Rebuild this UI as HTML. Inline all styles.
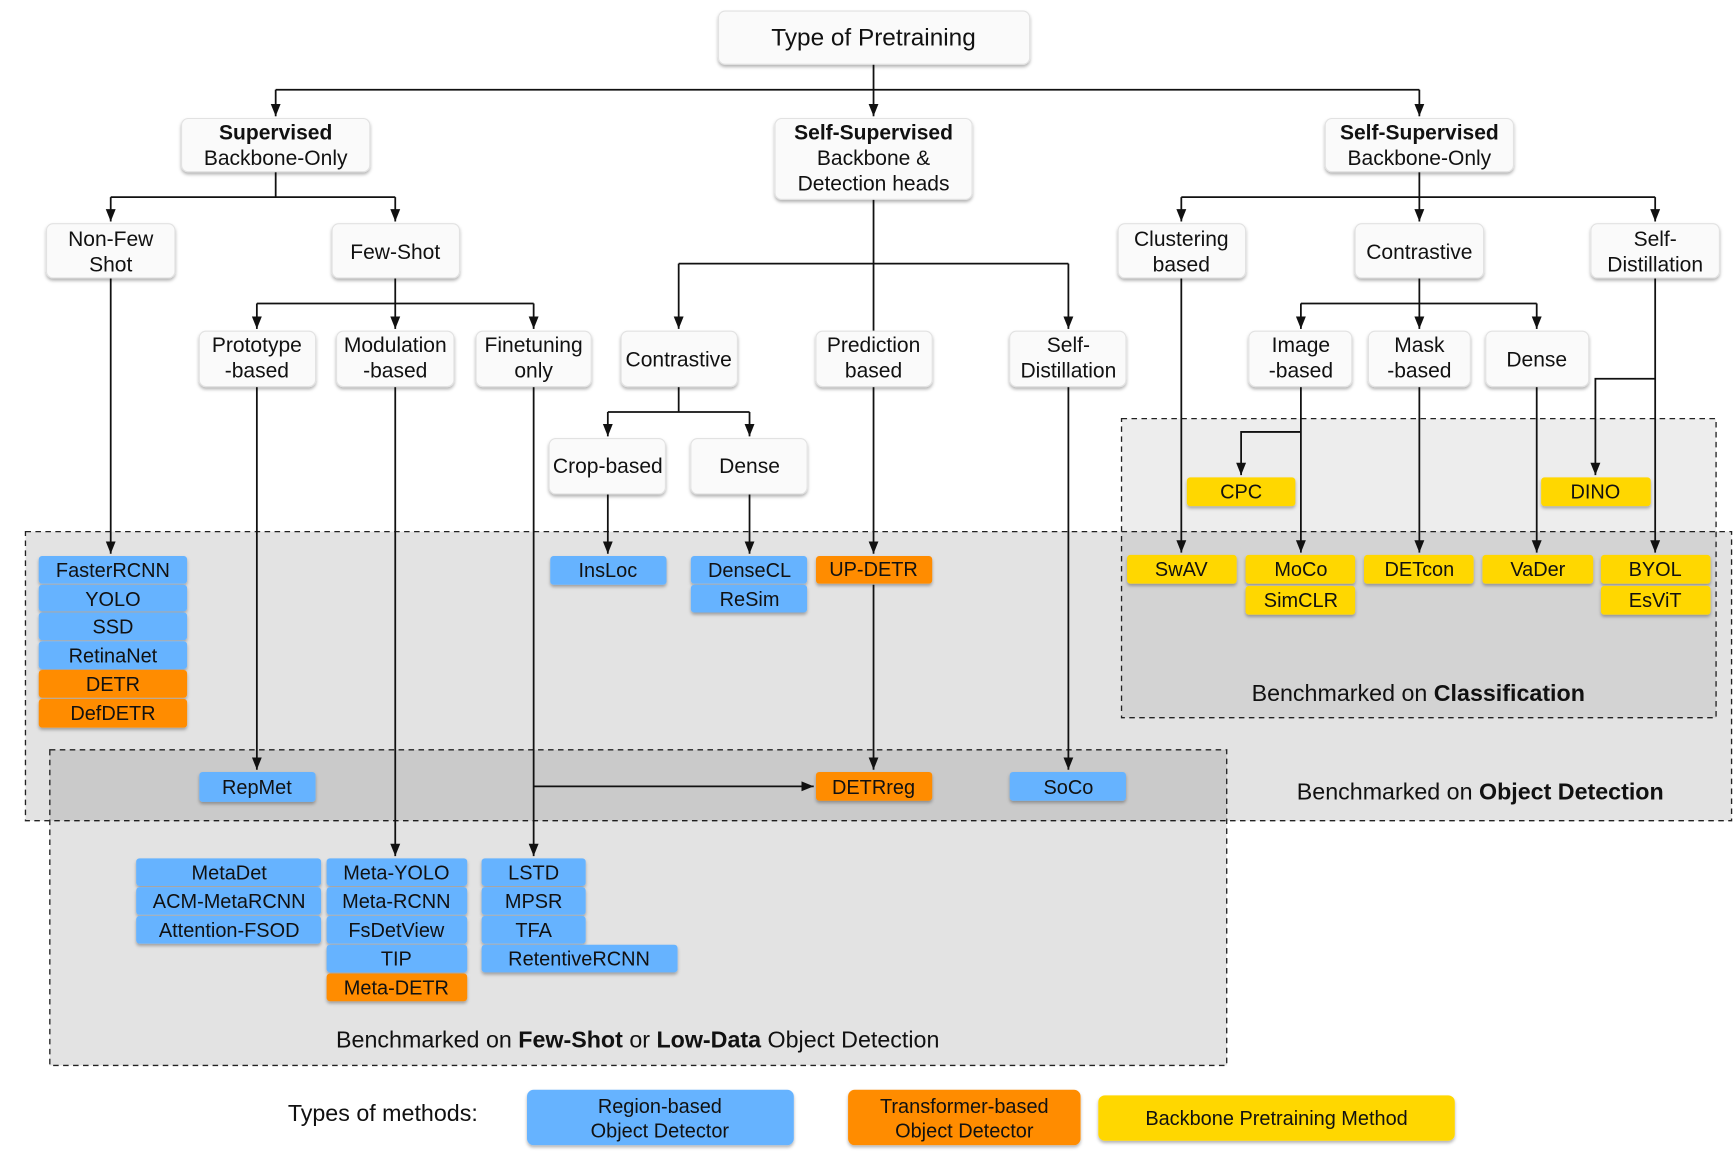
<!DOCTYPE html>
<html><head><meta charset="utf-8"><style>
html,body{margin:0;padding:0;background:#fff;}
svg{display:block;}
text{font-family:"Liberation Sans",sans-serif;fill:#111;}
.n{font-size:19px;text-anchor:middle;}
.m{font-size:18px;text-anchor:middle;}
.b{font-weight:bold;}
</style></head><body>
<svg width="1736" height="1164" viewBox="0 0 1568 1051" preserveAspectRatio="none" xmlns="http://www.w3.org/2000/svg">
<defs>
<marker id="a" viewBox="0 0 10 10" refX="10" refY="5" markerWidth="7" markerHeight="7" orient="auto"><path d="M0,1 L10,5 L0,9 z" fill="#111"/></marker>
<filter id="sh" x="-10%" y="-10%" width="120%" height="140%"><feDropShadow dx="0" dy="2" stdDeviation="1.5" flood-color="#000" flood-opacity="0.3"/></filter>
</defs>

<!-- regions -->
<rect x="23" y="480" width="1541" height="261" fill="rgba(0,0,0,0.11)" stroke="#222" stroke-dasharray="5,4" stroke-width="1.2"/>
<rect x="1013" y="378" width="537" height="270" fill="rgba(0,0,0,0.07)" stroke="#222" stroke-dasharray="5,4" stroke-width="1.2"/>
<rect x="45" y="677" width="1063" height="285" fill="rgba(0,0,0,0.11)" stroke="#222" stroke-dasharray="5,4" stroke-width="1.2"/>
<text x="1337" y="722" style="font-size:21px;text-anchor:middle">Benchmarked on <tspan class="b">Object Detection</tspan></text>
<text x="1281" y="633" style="font-size:21px;text-anchor:middle">Benchmarked on <tspan class="b">Classification</tspan></text>
<text x="576" y="946" style="font-size:21px;text-anchor:middle">Benchmarked on <tspan class="b">Few-Shot</tspan> or <tspan class="b">Low-Data</tspan> Object Detection</text>

<!-- connectors -->
<g stroke="#111" stroke-width="1.6" fill="none">
<path d="M789 58 V81 M249 81 H1282"/>
<path d="M249 81 V105" marker-end="url(#a)"/>
<path d="M789 81 V105" marker-end="url(#a)"/>
<path d="M1282 81 V105" marker-end="url(#a)"/>
<path d="M249 155 V178 M100 178 H357"/>
<path d="M100 178 V200" marker-end="url(#a)"/>
<path d="M357 178 V200" marker-end="url(#a)"/>
<path d="M357 251 V274 M232 274 H482"/>
<path d="M232 274 V297" marker-end="url(#a)"/>
<path d="M357 274 V297" marker-end="url(#a)"/>
<path d="M482 274 V297" marker-end="url(#a)"/>
<path d="M789 180 V500" marker-end="url(#a)"/>
<path d="M613 238 H965"/>
<path d="M613 238 V297" marker-end="url(#a)"/>
<path d="M965 238 V297" marker-end="url(#a)"/>
<path d="M613 349 V372 M549 372 H677"/>
<path d="M549 372 V394" marker-end="url(#a)"/>
<path d="M677 372 V394" marker-end="url(#a)"/>
<path d="M549 446 V500" marker-end="url(#a)"/>
<path d="M677 446 V500" marker-end="url(#a)"/>
<path d="M1282 155 V178 M1067 178 H1495"/>
<path d="M1067 178 V200" marker-end="url(#a)"/>
<path d="M1282 178 V200" marker-end="url(#a)"/>
<path d="M1495 178 V200" marker-end="url(#a)"/>
<path d="M1282 251 V274 M1175 274 H1388"/>
<path d="M1175 274 V297" marker-end="url(#a)"/>
<path d="M1282 274 V297" marker-end="url(#a)"/>
<path d="M1388 274 V297" marker-end="url(#a)"/>
<path d="M1067 251 V499" marker-end="url(#a)"/>
<path d="M1175 349 V499" marker-end="url(#a)"/>
<path d="M1175 390 H1121 V429" marker-end="url(#a)"/>
<path d="M1282 349 V499" marker-end="url(#a)"/>
<path d="M1388 349 V499" marker-end="url(#a)"/>
<path d="M1495 251 V499" marker-end="url(#a)"/>
<path d="M1495 342 H1441 V429" marker-end="url(#a)"/>
<path d="M100 251 V500" marker-end="url(#a)"/>
<path d="M232 349 V695" marker-end="url(#a)"/>
<path d="M357 349 V773" marker-end="url(#a)"/>
<path d="M482 349 V773" marker-end="url(#a)"/>
<path d="M482 710 H735" marker-end="url(#a)"/>
<path d="M789 528 V695" marker-end="url(#a)"/>
<path d="M965 349 V695" marker-end="url(#a)"/>
</g>

<!-- white nodes -->
<g fill="#fafafa" stroke="#e2e2e2" stroke-width="1" filter="url(#sh)">
<rect x="649" y="10" width="281" height="48" rx="6"/>
<rect x="164" y="107" width="170" height="48" rx="6"/>
<rect x="700" y="107" width="178" height="73" rx="6"/>
<rect x="1197" y="107" width="170" height="48" rx="6"/>
<rect x="42" y="202" width="116" height="49" rx="6"/>
<rect x="300" y="202" width="115" height="49" rx="6"/>
<rect x="1010" y="202" width="115" height="49" rx="6"/>
<rect x="1224" y="202" width="116" height="49" rx="6"/>
<rect x="1437" y="202" width="116" height="49" rx="6"/>
<rect x="180" y="299" width="105" height="50" rx="6"/>
<rect x="304" y="299" width="106" height="50" rx="6"/>
<rect x="430" y="299" width="104" height="50" rx="6"/>
<rect x="561" y="299" width="105" height="50" rx="6"/>
<rect x="737" y="299" width="105" height="50" rx="6"/>
<rect x="912" y="299" width="105" height="50" rx="6"/>
<rect x="1128" y="299" width="93" height="50" rx="6"/>
<rect x="1236" y="299" width="92" height="50" rx="6"/>
<rect x="1342" y="299" width="93" height="50" rx="6"/>
<rect x="496" y="396" width="105" height="50" rx="6"/>
<rect x="624" y="396" width="105" height="50" rx="6"/>
</g>
<text x="789" y="41" style="font-size:22px;text-anchor:middle">Type of Pretraining</text>
<text class="n" x="249" y="126"><tspan class="b">Supervised</tspan><tspan x="249" dy="23">Backbone-Only</tspan></text>
<text class="n" x="789" y="126"><tspan class="b">Self-Supervised</tspan><tspan x="789" dy="23">Backbone &amp;</tspan><tspan x="789" dy="23">Detection heads</tspan></text>
<text class="n" x="1282" y="126"><tspan class="b">Self-Supervised</tspan><tspan x="1282" dy="23">Backbone-Only</tspan></text>
<text class="n" x="100" y="222">Non-Few<tspan x="100" dy="23">Shot</tspan></text>
<text class="n" x="357" y="234">Few-Shot</text>
<text class="n" x="1067" y="222">Clustering<tspan x="1067" dy="23">based</tspan></text>
<text class="n" x="1282" y="234">Contrastive</text>
<text class="n" x="1495" y="222">Self-<tspan x="1495" dy="23">Distillation</tspan></text>
<text class="n" x="232" y="318">Prototype<tspan x="232" dy="23">-based</tspan></text>
<text class="n" x="357" y="318">Modulation<tspan x="357" dy="23">-based</tspan></text>
<text class="n" x="482" y="318">Finetuning<tspan x="482" dy="23">only</tspan></text>
<text class="n" x="613" y="331">Contrastive</text>
<text class="n" x="789" y="318">Prediction<tspan x="789" dy="23">based</tspan></text>
<text class="n" x="965" y="318">Self-<tspan x="965" dy="23">Distillation</tspan></text>
<text class="n" x="1175" y="318">Image<tspan x="1175" dy="23">-based</tspan></text>
<text class="n" x="1282" y="318">Mask<tspan x="1282" dy="23">-based</tspan></text>
<text class="n" x="1388" y="331">Dense</text>
<text class="n" x="549" y="427">Crop-based</text>
<text class="n" x="677" y="427">Dense</text>

<!-- method boxes -->
<g filter="url(#sh)">
<g fill="#66b3ff">
<rect x="35" y="502" width="134" height="25" rx="3"/>
<rect x="35" y="528" width="134" height="24" rx="3"/>
<rect x="35" y="553" width="134" height="25" rx="3"/>
<rect x="35" y="579" width="134" height="25" rx="3"/>
<rect x="497" y="502" width="105" height="26" rx="3"/>
<rect x="624" y="502" width="105" height="25" rx="3"/>
<rect x="624" y="528" width="105" height="25" rx="3"/>
<rect x="180" y="697" width="105" height="27" rx="3"/>
<rect x="912" y="697" width="105" height="26" rx="3"/>
<rect x="123" y="775" width="167" height="25" rx="3"/>
<rect x="123" y="801" width="167" height="25" rx="3"/>
<rect x="123" y="827" width="167" height="25" rx="3"/>
<rect x="295" y="775" width="127" height="25" rx="3"/>
<rect x="295" y="801" width="127" height="25" rx="3"/>
<rect x="295" y="827" width="127" height="25" rx="3"/>
<rect x="295" y="853" width="127" height="25" rx="3"/>
<rect x="435" y="775" width="94" height="25" rx="3"/>
<rect x="435" y="801" width="94" height="25" rx="3"/>
<rect x="435" y="827" width="94" height="25" rx="3"/>
<rect x="435" y="853" width="177" height="25" rx="3"/>
<rect x="476" y="984" width="241" height="50" rx="6"/>
</g>
<g fill="#ff8c00">
<rect x="35" y="605" width="134" height="25" rx="3"/>
<rect x="35" y="631" width="134" height="26" rx="3"/>
<rect x="737" y="502" width="105" height="25" rx="3"/>
<rect x="737" y="697" width="105" height="26" rx="3"/>
<rect x="295" y="879" width="127" height="25" rx="3"/>
<rect x="766" y="984" width="210" height="50" rx="6"/>
</g>
<g fill="#ffd700">
<rect x="1072" y="431" width="98" height="26" rx="3"/>
<rect x="1392" y="431" width="99" height="26" rx="3"/>
<rect x="1018" y="501" width="99" height="26" rx="3"/>
<rect x="1125" y="501" width="99" height="26" rx="3"/>
<rect x="1125" y="529" width="99" height="26" rx="3"/>
<rect x="1232" y="501" width="99" height="26" rx="3"/>
<rect x="1339" y="501" width="100" height="26" rx="3"/>
<rect x="1446" y="501" width="99" height="26" rx="3"/>
<rect x="1446" y="529" width="99" height="26" rx="3"/>
<rect x="992" y="989" width="322" height="41" rx="6"/>
</g>
</g>
<g class="m">
<text class="m" x="102" y="521">FasterRCNN</text>
<text class="m" x="102" y="547">YOLO</text>
<text class="m" x="102" y="572">SSD</text>
<text class="m" x="102" y="598">RetinaNet</text>
<text class="m" x="102" y="624">DETR</text>
<text class="m" x="102" y="650">DefDETR</text>
<text class="m" x="549" y="521">InsLoc</text>
<text class="m" x="677" y="521">DenseCL</text>
<text class="m" x="677" y="547">ReSim</text>
<text class="m" x="789" y="520">UP-DETR</text>
<text class="m" x="1121" y="450">CPC</text>
<text class="m" x="1441" y="450">DINO</text>
<text class="m" x="1067" y="520">SwAV</text>
<text class="m" x="1175" y="520">MoCo</text>
<text class="m" x="1175" y="548">SimCLR</text>
<text class="m" x="1282" y="520">DETcon</text>
<text class="m" x="1389" y="520">VaDer</text>
<text class="m" x="1495" y="520">BYOL</text>
<text class="m" x="1495" y="548">EsViT</text>
<text class="m" x="232" y="717">RepMet</text>
<text class="m" x="789" y="717">DETRreg</text>
<text class="m" x="965" y="717">SoCo</text>
<text class="m" x="207" y="794">MetaDet</text>
<text class="m" x="207" y="820">ACM-MetaRCNN</text>
<text class="m" x="207" y="846">Attention-FSOD</text>
<text class="m" x="358" y="794">Meta-YOLO</text>
<text class="m" x="358" y="820">Meta-RCNN</text>
<text class="m" x="358" y="846">FsDetView</text>
<text class="m" x="358" y="872">TIP</text>
<text class="m" x="358" y="898">Meta-DETR</text>
<text class="m" x="482" y="794">LSTD</text>
<text class="m" x="482" y="820">MPSR</text>
<text class="m" x="482" y="846">TFA</text>
<text class="m" x="523" y="872">RetentiveRCNN</text>
</g>

<!-- legend -->
<text x="260" y="1012" style="font-size:21px">Types of methods:</text>
<text class="m" x="596" y="1005">Region-based<tspan x="596" dy="22">Object Detector</tspan></text>
<text class="m" x="871" y="1005">Transformer-based<tspan x="871" dy="22">Object Detector</tspan></text>
<text class="m" x="1153" y="1016">Backbone Pretraining Method</text>
</svg>
</body></html>
